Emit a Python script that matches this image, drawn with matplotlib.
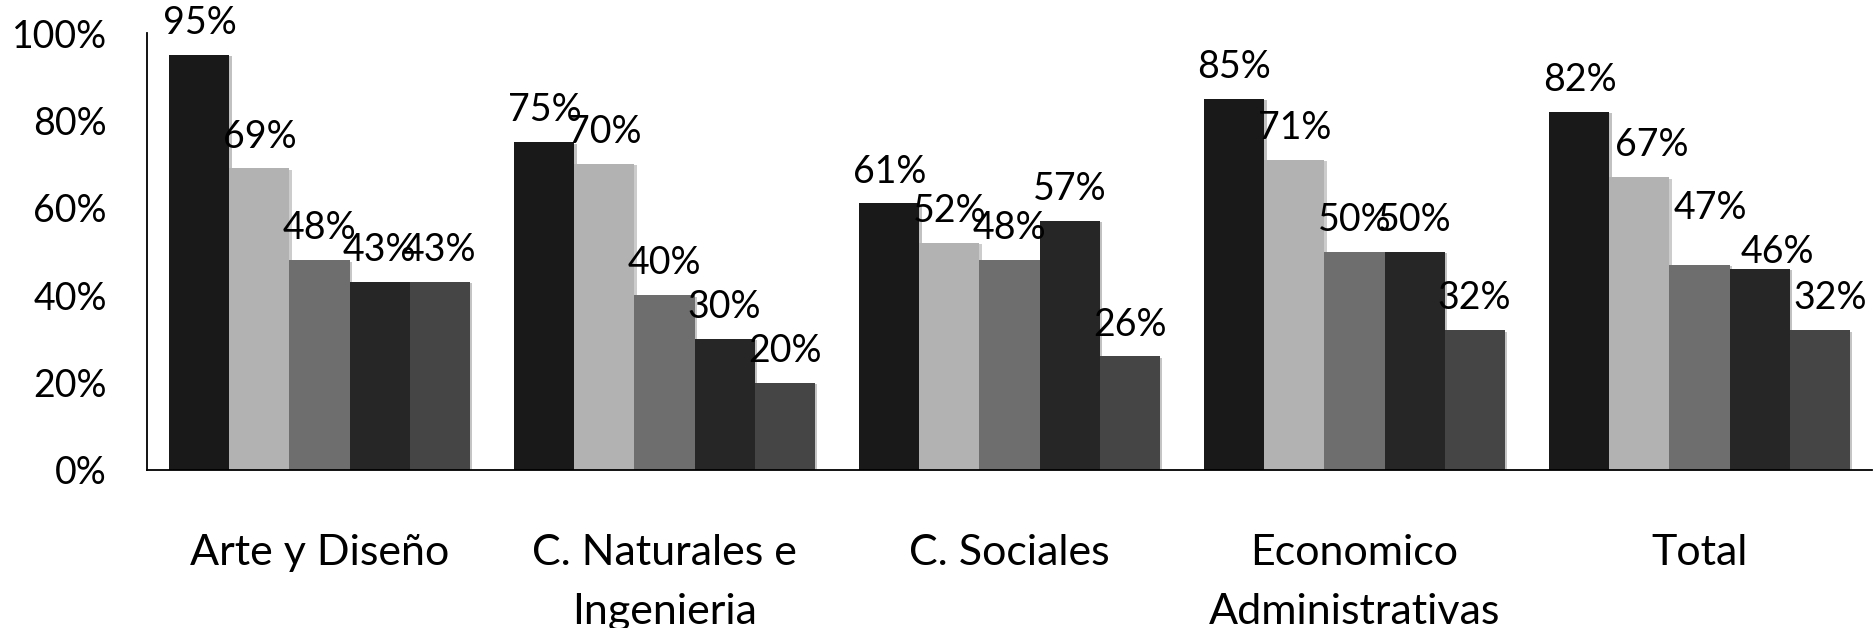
import numpy as np
import matplotlib.pyplot as plt
import matplotlib.patheffects as pe
from matplotlib.ticker import PercentFormatter

plt.rcParams['font.family'] = ['Lato', 'DejaVu Sans']

# categorias y valores (proporciones)
categories = ['Arte y Diseño', 'C. Naturales e\nIngenieria', 'C. Sociales',
              'Economico\nAdministrativas', 'Total']
serie1 = [0.95, 0.75, 0.61, 0.85, 0.82]
serie2 = [0.69, 0.70, 0.52, 0.71, 0.67]
serie3 = [0.48, 0.40, 0.48, 0.50, 0.47]
serie4 = [0.43, 0.30, 0.57, 0.50, 0.46]
serie5 = [0.43, 0.20, 0.26, 0.32, 0.32]
series = [serie1, serie2, serie3, serie4, serie5]
colors = ['#191919', '#b2b2b2', '#6e6e6e', '#262626', '#454545']

# etiquetas movidas a mano en el original (serie, categoria): desplazamiento en pt
nudges = {(1, 4): (9, 0), (2, 4): (8, 18), (3, 4): (13, -11), (4, 4): (8, 0)}

fig = plt.figure(figsize=(18.73, 6.28), dpi=100)
ax = fig.add_axes([147 / 1873, 1 - 470 / 628, 1725 / 1873, 437 / 628])

x = np.arange(len(categories))
w = 0.174
shadow = [pe.SimplePatchShadow(offset=(2, -1), alpha=0.25), pe.Normal()]
for i, (vals, c) in enumerate(zip(series, colors)):
    pos = x + (i - 2) * w
    bars = ax.bar(pos, vals, width=w, color=c, linewidth=0)
    for b in bars:
        b.set_path_effects(shadow)
    for j, (p, v) in enumerate(zip(pos, vals)):
        dx, dy = nudges.get((i, j), (0, 0))
        ax.annotate(f'{v:.0%}', (p, v), xytext=(dx, 15 + dy), textcoords='offset points',
                    ha='center', va='baseline', fontsize=27)

ax.set_xlim(-0.5, 4.5)
ax.set_ylim(0, 1)
ax.set_yticks(np.arange(0, 1.01, 0.2))
ax.yaxis.set_major_formatter(PercentFormatter(1.0, decimals=0))
ax.set_xticks(x)
ax.set_xticklabels(categories, fontsize=31, linespacing=1.69)
ax.tick_params(axis='y', length=0, pad=29, labelsize=27)
ax.tick_params(axis='x', length=0, pad=46)

for s in ['top', 'right']:
    ax.spines[s].set_visible(False)
ax.spines['left'].set_linewidth(1.3)
ax.spines['bottom'].set_linewidth(1.3)

fig.savefig('out.png', dpi=100)
